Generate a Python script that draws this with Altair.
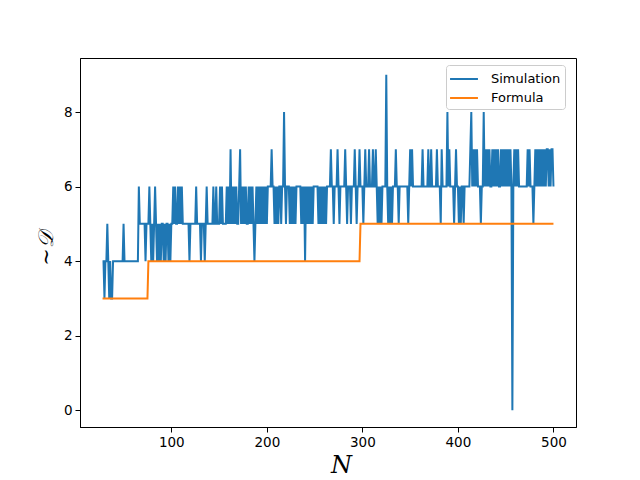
import altair as alt
import pandas as pd

# Simulation values, each list starts at the N given in its name
sim_n028 = [4, 4,
            3, 4, 4, 5, 4, 3, 4, 3, 3, 4,
            4, 4, 4, 4, 4, 4, 4, 4, 4, 4,
            5, 4, 4, 4, 4, 4, 4, 4, 4, 4,
            4, 4, 4, 4, 4, 4, 6, 5, 5, 5,
            5, 5, 5, 4, 5, 5]
sim_n076 = [5, 6, 5, 4,
            5, 4, 5, 6, 5, 4, 5, 4, 5, 4,
            5, 5, 4, 5, 4, 5, 5, 4, 5, 4,
            5, 5, 6, 5, 6, 5, 5, 6, 5, 6,
            5, 6, 5, 5, 5, 5, 5, 5, 5, 4]
sim_n120 = [5, 5, 5, 5, 5, 5, 6, 5, 5, 5,
            5, 4, 5, 5, 5, 4, 5, 6, 5, 5,
            5, 5, 5, 5, 6, 5, 5, 6, 5, 5,
            5, 6, 5, 6, 5, 5, 5, 5, 6, 5,
            6, 5, 7, 5, 6, 5, 6, 5, 6, 5,
            5, 6, 7, 5, 6, 5, 6, 5, 6, 5,
            5, 6, 5, 6, 5, 6, 5, 4, 5, 6,
            5, 6, 5, 6, 5, 6, 5, 6, 5, 6,
            5, 6, 6, 6, 6, 7, 6, 6, 5, 6,
            5, 6, 5, 6, 6, 5, 6, 6, 8, 6]
sim_n220 = [5, 6, 6, 6, 5, 6, 5, 6, 5, 6,
            5, 6, 6, 6, 6, 6, 5, 6, 5, 6,
            4, 6, 5, 6, 5, 6, 5, 6, 5, 6,
            6, 6, 6, 6, 5, 6, 5, 6, 5, 6,
            5, 6, 5, 6, 6, 6, 6, 7, 6, 6,
            5, 6, 6, 6, 7, 6, 5, 6, 6, 6,
            6, 6, 7, 6, 5, 6, 6, 6, 5, 6,
            6, 6, 7, 6, 5, 6, 6, 7, 6, 6,
            6, 5, 6, 7, 6, 6, 6, 7, 6, 6,
            6, 7, 6, 6, 7, 6, 5, 6, 5, 6]
sim_n320 = [5, 6, 6, 6, 6, 9, 6, 5, 6, 5,
            6, 5, 6, 6, 6, 7, 6, 6, 5, 6,
            6, 6, 6, 6, 6, 6, 6, 6, 5, 6,
            7, 6, 7, 6, 6, 6, 6, 6, 6, 6,
            6, 6, 6, 7, 6, 6, 6, 6, 6, 7,
            6, 6, 7, 6, 6, 6, 6, 6, 7, 6,
            6, 6, 5, 7, 6, 6, 6, 6, 6, 8,
            6, 7, 6, 6, 6, 6, 5, 6, 7, 6,
            6, 5, 6, 5, 6, 6, 5, 6, 6, 6,
            6, 6, 6, 7, 8, 6, 7, 6, 7, 6]
sim_n420 = [7, 6, 6, 6, 5, 6, 6, 8, 6, 7,
            6, 7, 6, 7, 6, 6, 7, 6, 7, 6,
            7, 6, 7, 6, 6, 7, 6, 7, 6, 7,
            6, 7, 6, 7, 6, 7, 6, 0, 6, 7,
            6, 7, 6, 7, 6, 6, 6, 6, 6, 6,
            6, 6, 6, 7, 6, 7, 6, 6, 6, 5,
            6, 7, 6, 7, 6, 7, 6, 7, 6, 7,
            6, 7, 6, 7, 7, 6, 7, 6, 7, 7, 6]

sim_segments = [(28, sim_n028), (76, sim_n076), (120, sim_n120),
                (220, sim_n220), (320, sim_n320), (420, sim_n420)]

formula_n = [28, 75, 76, 297, 298, 500]
formula_d = [3, 3, 4, 4, 5, 5]

rows = []
for start, vals in sim_segments:
    for i, v in enumerate(vals):
        rows.append({"N": start + i, "D": v, "series": "Simulation"})
sim_df = pd.DataFrame(rows)
form_df = pd.DataFrame({"N": formula_n, "D": formula_d, "series": "Formula"})

xs = alt.Scale(domain=[4.4, 523.6], nice=False, zero=False)
ys = alt.Scale(domain=[-0.45, 9.45], nice=False, zero=False)
cs = alt.Scale(domain=["Simulation", "Formula"], range=["#1f77b4", "#ff7f0e"])

xax = alt.Axis(values=[100, 200, 300, 400, 500], title="N", grid=False,
               titleFont="DejaVu Serif", titleFontStyle="italic", titleFontWeight="normal",
               titleFontSize=24, titleX=261, titleY=45, titleBaseline="alphabetic",
               titleAlign="center")
yax = alt.Axis(values=[0, 2, 4, 6, 8], title="∼𝒟", grid=False,
               titleFont="DejaVu Serif", titleFontStyle="italic", titleFontWeight="normal",
               titleFontSize=21, titleX=-28, titleY=190, titleAngle=270,
               titleBaseline="alphabetic", titleAlign="center")

leg = alt.Legend(title=None, orient="none", legendX=366, legendY=7,
                 fillColor="white", strokeColor="#cccccc", cornerRadius=3,
                 padding=4, rowPadding=2, symbolType="M-1.55,0H1.55", symbolSize=324,
                 symbolOffset=4, symbolStrokeWidth=2, labelFontSize=13,
                 labelFont="DejaVu Sans", labelOffset=17, labelColor="black")

enc = dict(
    x=alt.X("N:Q", scale=xs, axis=xax),
    y=alt.Y("D:Q", scale=ys, axis=yax),
    color=alt.Color("series:N", scale=cs, legend=leg),
)

sim = alt.Chart(sim_df).mark_line(strokeWidth=2, clip=True).encode(order="N:Q", **enc)
form = alt.Chart(form_df).mark_line(strokeWidth=2, clip=True).encode(order="N:Q", **enc)

chart = alt.layer(sim, form).properties(
    width=496, height=369,
    autosize=alt.AutoSizeParams(type="none"),
    padding={"left": 72, "top": 50, "right": 56, "bottom": 52},
).configure_view(stroke="black", strokeWidth=1).configure_axis(
    domainColor="black", tickColor="black", tickSize=5, labelFontSize=13.5,
    labelFont="DejaVu Sans", labelColor="black", titleColor="black", labelPadding=3,
    domainWidth=1, tickWidth=1
)

chart.save("out.html", embed_options={"renderer": "svg", "actions": False})
